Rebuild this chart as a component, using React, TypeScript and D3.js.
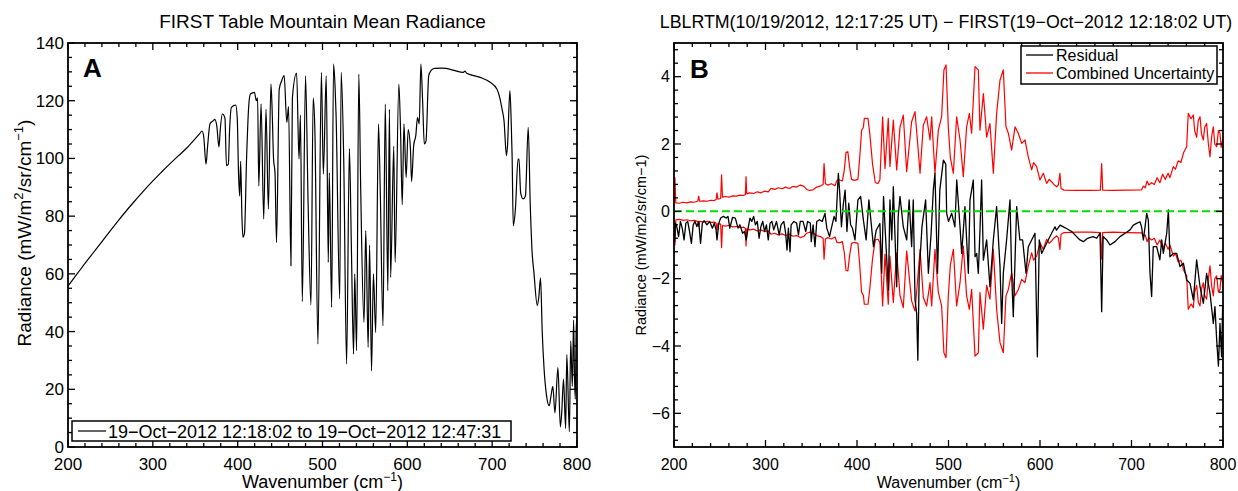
import React from 'react';
import * as d3 from 'd3';

// ---------- data ----------
const xTickValues = [200, 300, 400, 500, 600, 700, 800];
const yTickValuesA = [0, 20, 40, 60, 80, 100, 120, 140];
const yTickValuesB = [-6, -4, -2, 0, 2, 4];

const titleA = 'FIRST Table Mountain Mean Radiance';
const titleB = 'LBLRTM(10/19/2012, 12:17:25 UT) \u2212 FIRST(19\u2212Oct\u22122012 12:18:02 UT)';
const legendA = '19\u2212Oct\u22122012 12:18:02 to 19\u2212Oct\u22122012 12:47:31';
const legendB = ['Residual', 'Combined Uncertainty'];

// [wavenumber, radiance]
const radianceA: [number, number][] = [
  [200, 55.8], [210, 59.7], [220, 63.6], [230, 67.4], [240, 71.2], [250, 75], [260, 78.7],
  [270, 82.3], [280, 85.7], [290, 89], [300, 92.2], [310, 95.2], [320, 98.1], [330, 100.9],
  [340, 103.6], [348, 106.2], [355, 108.5], [358, 109.5], [360, 107.5],
  [362.7, 98], [364.5, 104], [367.4, 112], [371, 113], [373, 113.5], [375.5, 111], [377, 106],
  [378, 104], [379.5, 110], [382, 115.4], [385, 114], [386.8, 97.5], [389, 98], [390.5, 110],
  [392.6, 117.7], [397.7, 118.5], [399.5, 114], [401, 95], [402.4, 87], [403.5, 99], [405, 80],
  [406.2, 72.7], [408, 74], [410.5, 100], [413, 118], [415, 122.3], [419.8, 122.9], [422, 120],
  [423.5, 121], [424.9, 90.5], [427.6, 118.9], [430.7, 79], [433.4, 117], [436.2, 82.5],
  [439.2, 125.8], [440.5, 118], [442.3, 99.8], [444, 95], [445.8, 70.9], [449, 124], [452, 127],
  [454.8, 128.7], [457.9, 112.5], [460, 118], [462.8, 62.8], [464.5, 121], [469.5, 129.6],
  [472.3, 99.8], [474, 115], [476.2, 50.4], [480, 128.6], [483, 85], [486.4, 49.2], [489, 121],
  [491, 110], [494.6, 35.7], [498.7, 129.8], [501, 94.6], [504.4, 128.6], [506.8, 64], [508, 95],
  [510.8, 48.4], [513, 132.7], [514.8, 125], [516, 115], [520.3, 51.3], [522, 129.8], [525, 100],
  [528.4, 28.8], [531.7, 103.4], [534, 70], [536.6, 32.2], [538, 60], [540.2, 33.4],
  [542.8, 129.2], [545, 90], [548.9, 43.2], [551, 75], [553.8, 34.5], [555.5, 70], [557.8, 26.4],
  [560, 60], [562.7, 39.7], [566, 111.9], [568, 90], [571.3, 42], [574, 118.8], [577, 54.2],
  [578.9, 117], [580.3, 58.8], [584, 104.2], [585.6, 64], [590, 125.8], [592, 109.6], [594, 84],
  [596, 112], [598.6, 93.4], [601, 110], [603.7, 103], [605, 92], [607.5, 104.5], [610, 108],
  [612, 114.2], [614, 112], [616, 132.7], [618, 120], [620, 105], [622, 106], [625.2, 128.7],
  [628, 130.5], [632, 131.2], [640, 131.3], [646, 131.2], [655, 130.5], [666, 129.8],
  [668, 130.3], [670, 129.5], [685.8, 128.1], [697.7, 126.4], [705.7, 124], [709, 121],
  [711.7, 117], [714, 113], [716.8, 101], [718, 104], [720.9, 123.5], [722.5, 112], [723.5, 101],
  [724.9, 76.7], [727.4, 82.5], [730.5, 99.8], [731.6, 99.8], [733.6, 88], [736.5, 86],
  [739.2, 87], [742.5, 110.8], [744.9, 84], [747, 68], [749.2, 60.5], [753.2, 49], [755, 52],
  [757, 58.6], [759, 40], [761.2, 27], [764, 18], [767.3, 14.3], [769, 17], [771.5, 21],
  [774, 11.8], [777.5, 27.5], [780.4, 7], [782, 12], [784.1, 23.5], [786.6, 6.4], [788, 32],
  [791, 5.3], [792.6, 36.7], [794.5, 21], [796, 44], [797, 25], [798, 16.6], [799, 40], [800, 45],
];

// [wavenumber, residual]
const residualB: [number, number][] = [
  [200, -0.3], [200.8, -0.9], [201.5, -0.35], [203, -0.45], [205, -0.75], [207, -0.3], [209, -0.5],
  [211, -0.85], [213, -0.35], [215, -0.3], [217, -0.6], [219, -0.95], [221, -0.4], [223, -0.3],
  [225, -0.45], [227, -0.3], [229, -0.95], [231, -0.35], [233, -0.28], [236, -0.4], [239, -0.3],
  [242, -0.5], [244, -0.35], [246, -0.55], [247, -0.85], [249, -0.35], [251, -0.2], [254, -0.15],
  [257, -0.2], [259, -0.15], [261, -0.5], [264, -0.18], [267, -0.2], [270, -0.5], [272, -0.4],
  [275, -0.65], [277, -0.6], [279, -0.85], [281, -0.5], [283, -0.2], [285, -0.3], [287, -0.15],
  [289, -0.4], [291, -0.3], [293, -0.8], [295, -0.45], [297, -0.3], [299, -0.6], [301, -0.4],
  [303, -0.85], [305, -0.35], [307, -0.3], [309, -0.55], [312, -0.3], [315, -0.7], [317, -0.4],
  [320, -0.3], [322, -0.65], [323.5, -1.15], [325, -0.5], [326.8, -1.2], [328, -0.4], [331, -0.3],
  [334, -0.35], [336, -0.7], [338, -0.3], [341, -0.3], [344, -0.6], [346, -0.3], [349, -0.35],
  [350, -0.9], [352, -0.4], [354.1, -1.05], [356, -0.3], [359, -0.25], [362, -0.3], [365, -0.06],
  [367, -0.5], [370, -0.75], [372, -0.5], [375, -0.15], [377, -0.3], [379.6, 1.13], [381, 0.6],
  [383, -0.46], [385, 0.2], [387, 0.63], [389, -0.6], [391, 0.24], [393, -0.4], [395, -0.5],
  [397.8, -0.85], [401, 0.34], [404, 0.44], [407, -0.26], [410, -0.85], [413, 0.34], [418, -1.05],
  [421, -0.56], [425, -0.36], [427, -1.84], [429, 0.44], [431, -0.66], [434.3, -2.34], [436, 0.34],
  [438, -0.85], [439.7, 0.73], [443.4, -2.24], [445, -0.16], [447, 0.44], [450.6, -0.46],
  [454.3, -0.85], [457, 0.34], [459.7, -1.05], [461.5, 0.34], [463.4, -2.63], [465.2, -3.03],
  [466.5, -4.42], [468, -1.84], [471, -0.46], [475, 0.34], [478, -1.84], [481, -0.65],
  [483.4, 0.63], [485.2, 1.13], [488, -1.84], [490.5, 0.63], [494.4, 1.52], [497, 1.4],
  [498, -0.06], [500, -0.3], [503.5, -0.06], [507, -0.46], [509, 0.93], [512.6, -0.46],
  [514.4, -1.25], [518, 0.14], [521.7, -1.84], [523.5, 0.34], [527.1, 0.93], [529, -1.35],
  [530.8, -1.25], [532.6, -1.84], [534.4, -0.56], [536.2, 0.93], [538.1, -1.45], [541.7, -0.85],
  [545.3, -2.24], [549, -0.85], [552.6, 0.14], [556.3, -1.64], [558.1, -3.33], [559.9, -1.84],
  [563.5, -0.85], [567.2, 0.34], [569, -1.84], [570.8, -3.13], [574.5, 0.14], [578, -0.85],
  [581, -0.85], [584.7, -1.84], [587.2, -1.05], [590.9, -0.85], [594.5, -0.65], [597.1, -4.32],
  [599.2, -0.85], [601.8, -1.25], [605.4, -1.05], [609, -0.85], [612.7, -0.65], [616.4, -0.46],
  [618, -0.56], [622, -0.41], [625.5, -0.46], [629, -0.51], [634.6, -0.6], [640, -0.75],
  [643.7, -0.85], [647.4, -0.9], [652, -0.8], [658, -0.75], [662, -0.8], [665.6, -0.65],
  [667.4, -2.98], [669, -0.75], [672.9, -0.85], [676.5, -1.0], [682, -0.9], [687.4, -0.75],
  [693, -0.65], [698.4, -0.55], [702, -0.41], [705.6, -0.36], [709.3, -0.31], [711, -0.46],
  [713, -0.85], [714.8, -0.46], [716.6, -0.06], [718.4, -0.26], [720.2, -1.84], [722, -2.53],
  [723.8, -1.05], [727.5, -1.05], [731, -1.44], [733, -0.85], [734.8, -1.25], [738.5, -0.65],
  [740.3, 0.04], [742, -1.35], [745.7, -1.25], [749.4, -1.25], [753, -1.64], [756.7, -1.54],
  [760.3, -2.04], [764, -2.14], [767.6, -2.63], [771.2, -1.44], [774.9, -2.24], [778.5, -2.73],
  [782.1, -1.84], [785.8, -2.43], [789.4, -3.33], [791.2, -2.83], [793.1, -3.82], [795, -4.6],
  [796.7, -3.33], [798.5, -4.32], [799.6, -2.83], [800, -3.2],
];

// [wavenumber, combined uncertainty] (drawn as +/-)
const uncertaintyB: [number, number][] = [
  [200, 0.25], [201, 1.0], [202, 0.25], [206, 0.24], [210, 0.27], [214, 0.25], [218, 0.28],
  [222, 0.27], [226, 0.3], [227, 0.45], [228, 0.3], [232, 0.31], [236, 0.3], [240, 0.33],
  [244, 0.32], [246, 0.35], [247, 0.55], [248, 0.36], [251, 0.38], [252, 1.08], [253, 0.42],
  [256, 0.44], [260, 0.42], [264, 0.46], [268, 0.45], [272, 0.48], [276, 0.47], [278, 0.5],
  [278.7, 1.03], [279.5, 0.52], [283, 0.55], [287, 0.53], [291, 0.58], [295, 0.55], [299, 0.6],
  [303, 0.58], [306, 0.68], [310, 0.65], [314, 0.7], [318, 0.67], [322, 0.72], [326, 0.68],
  [330, 0.74], [334, 0.72], [338, 0.78], [342, 0.74], [345, 0.65], [348, 0.62], [352, 0.64],
  [356, 0.72], [360, 0.75], [363, 0.8], [364, 1.42], [365.5, 0.82], [368, 0.78], [372, 0.82],
  [376, 0.76], [378, 0.92], [381, 0.93], [384, 0.9], [386, 1.2], [388, 1.75], [390, 1.77],
  [392, 1.3], [394, 0.95], [397, 0.92], [401, 0.95], [403, 1.6], [405, 2.4], [407, 2.5],
  [408, 2.76], [412, 2.76], [414, 2.3], [417, 1.4], [420, 0.85], [423, 0.83], [425, 0.93],
  [428, 2.81], [430.6, 1.27], [434.2, 2.76], [436, 1.33], [439.7, 2.71], [443.4, 1.23],
  [447, 2.5], [450.6, 2.86], [454.3, 1.18], [459.7, 2.66], [463.4, 2.96], [466, 2.12],
  [468.9, 1.13], [472.5, 2.56], [476.1, 2.81], [479.8, 2.12], [481.6, 2.81], [485.2, 1.13],
  [488.9, 2.41], [492.5, 2.81], [495, 4.2], [497.3, 4.35], [499.8, 2.5], [502, 1.6],
  [505.3, 1.13], [508.9, 2.81], [512.6, 2.12], [516.2, 1.03], [519.8, 2.51], [522.8, 2.91],
  [525.3, 2.32], [529, 4.3], [532.6, 4.2], [534.4, 2.41], [538.1, 3.5], [541.7, 2.2],
  [545.3, 2.61], [549, 1.13], [552.6, 2.91], [556.3, 3.9], [559.9, 4.2], [562.8, 2.51],
  [565.4, 2.32], [569, 1.82], [572.7, 2.51], [576.3, 2.32], [580, 2.02], [583.6, 2.12],
  [587.2, 1.62], [590.9, 1.23], [593, 1.45], [596.3, 1.33], [600, 0.93], [603.6, 1.13],
  [607.3, 0.83], [610, 0.95], [612.7, 0.88], [615, 0.8], [618.2, 0.73], [620, 0.78],
  [621.8, 1.13], [623, 0.68], [626.2, 0.63], [640, 0.62], [655, 0.62], [666, 0.63],
  [667.4, 1.42], [668.5, 0.63], [680, 0.62], [695, 0.63], [711, 0.64], [713, 0.75], [715, 0.7],
  [717, 0.9], [719, 0.78], [722, 0.85], [725, 0.8], [728, 1.0], [731, 0.85], [734, 1.1],
  [737, 0.95], [740, 1.13], [742, 1.0], [745.7, 1.33], [748, 1.25], [751, 1.5], [754, 1.45],
  [757, 1.75], [760.3, 1.92], [762, 2.91], [765, 2.75], [767.6, 2.86], [769, 2.4],
  [771.2, 2.2], [773, 2.7], [774.9, 2.81], [776.5, 2.3], [778.5, 2.12], [780, 2.5],
  [782.1, 2.61], [784, 2.0], [785.8, 1.62], [787.5, 2.2], [789.4, 2.51], [791, 2.0],
  [793.1, 1.92], [795, 2.4], [796.7, 2.32], [798, 1.9], [799.6, 2.12], [800, 2.0],
];

// ---------- layout ----------
const W = 1238;
const H = 491;
const boxA = { left: 68, right: 577, top: 43, bottom: 447 };
const boxB = { left: 674, right: 1223, top: 43, bottom: 447 };
const FONT = '"Liberation Sans", Arial, Helvetica, sans-serif';

type Scale = d3.ScaleLinear<number, number>;

function Frame({ box, x, y, yMinorStep, xMinorStep, majorY, majorX }: {
  box: typeof boxA; x: Scale; y: Scale; yMinorStep: number; xMinorStep: number;
  majorY: number[]; majorX: number[];
}) {
  const [x0, x1] = x.domain();
  const [y0, y1] = y.domain();
  const xMinor = d3.range(Math.ceil(x0 / xMinorStep) * xMinorStep, x1 + 1e-9, xMinorStep);
  const yMinor = d3.range(Math.ceil(y0 / yMinorStep - 1e-9) * yMinorStep, y1 + 1e-9, yMinorStep);
  const maj = 7;
  const min = 4;
  const els: React.ReactNode[] = [];
  xMinor.forEach((v, i) => {
    const px = x(v);
    const isMaj = majorX.some((m) => Math.abs(m - v) < 1e-6);
    const L = isMaj ? maj : min;
    els.push(<line key={'xb' + i} x1={px} x2={px} y1={box.bottom} y2={box.bottom - L} />);
    els.push(<line key={'xt' + i} x1={px} x2={px} y1={box.top} y2={box.top + L} />);
  });
  yMinor.forEach((v, i) => {
    const py = y(v);
    const isMaj = majorY.some((m) => Math.abs(m - v) < 1e-6);
    const L = isMaj ? maj : min;
    els.push(<line key={'yl' + i} x1={box.left} x2={box.left + L} y1={py} y2={py} />);
    els.push(<line key={'yr' + i} x1={box.right} x2={box.right - L} y1={py} y2={py} />);
  });
  return (
    <g stroke="#000" strokeWidth={1.3}>
      {els}
      <rect x={box.left} y={box.top} width={box.right - box.left} height={box.bottom - box.top}
        fill="none" strokeWidth={1.8} />
    </g>
  );
}

const fmt = (v: number) => (v < 0 ? '\u2212' + Math.abs(v) : String(v));

export default function App() {
  const xA = d3.scaleLinear().domain([200, 800]).range([boxA.left, boxA.right]);
  const yA = d3.scaleLinear().domain([0, 140]).range([boxA.bottom, boxA.top]);
  const xB = d3.scaleLinear().domain([200, 800]).range([boxB.left, boxB.right]);
  const yB = d3.scaleLinear().domain([-7, 5]).range([boxB.bottom, boxB.top]);

  const lineA = d3.line<[number, number]>().x((d) => xA(d[0])).y((d) => yA(d[1])).curve(d3.curveMonotoneX);
  const lineB = d3.line<[number, number]>().x((d) => xB(d[0])).y((d) => yB(d[1]));
  const lineBneg = d3.line<[number, number]>().x((d) => xB(d[0])).y((d) => yB(-d[1]));

  return (
    <svg width={W} height={H} style={{ position: 'absolute', left: 0, top: 0, background: '#fff' }}
      fontFamily={FONT}>
      <defs>
        <clipPath id="clipA"><rect x={boxA.left} y={boxA.top} width={boxA.right - boxA.left} height={boxA.bottom - boxA.top} /></clipPath>
        <clipPath id="clipB"><rect x={boxB.left} y={boxB.top} width={boxB.right - boxB.left} height={boxB.bottom - boxB.top} /></clipPath>
      </defs>
      <rect x={0} y={0} width={W} height={H} fill="#fff" />

      {/* ---------------- Panel A ---------------- */}
      <text x={(boxA.left + boxA.right) / 2} y={28} fontSize={19} textAnchor="middle">{titleA}</text>
      <g clipPath="url(#clipA)">
        <path d={lineA(radianceA) || ''} fill="none" stroke="#000" strokeWidth={1.2} strokeLinejoin="round" />
      </g>
      <Frame box={boxA} x={xA} y={yA} xMinorStep={20} yMinorStep={5} majorX={xTickValues} majorY={yTickValuesA} />
      {xTickValues.map((v) => (
        <text key={'ax' + v} x={xA(v)} y={470} fontSize={17} textAnchor="middle">{v}</text>
      ))}
      {yTickValuesA.map((v) => (
        <text key={'ay' + v} x={boxA.left - 4} y={yA(v)} dy="0.35em" fontSize={17} textAnchor="end">{v}</text>
      ))}
      <text x={(boxA.left + boxA.right) / 2} y={488} fontSize={18} textAnchor="middle">
        Wavenumber (cm<tspan dy="-7" fontSize={12}>{'\u22121'}</tspan><tspan dy="7">)</tspan>
      </text>
      <text transform={`translate(31,${233}) rotate(-90)`} fontSize={19} textAnchor="middle">
        Radiance (mW/m<tspan dy="-8" fontSize={13}>2</tspan><tspan dy="8">/sr/cm</tspan>
        <tspan dy="-8" fontSize={13}>{'\u22121'}</tspan><tspan dy="8">)</tspan>
      </text>
      <text x={83} y={77} fontSize={26} fontWeight="bold">A</text>
      {/* legend A */}
      <rect x={72} y={421} width={439} height={20} fill="#fff" stroke="#000" strokeWidth={1.5} />
      <line x1={78} x2={106} y1={431} y2={431} stroke="#000" strokeWidth={1.2} />
      <text x={108} y={437.5} fontSize={18}>{legendA}</text>

      {/* ---------------- Panel B ---------------- */}
      <text x={946} y={28} fontSize={17.8} textAnchor="middle">{titleB}</text>
      <g clipPath="url(#clipB)">
        <path d={lineB(uncertaintyB) || ''} fill="none" stroke="#ff0000" strokeWidth={1.2} strokeLinejoin="round" />
        <path d={lineBneg(uncertaintyB) || ''} fill="none" stroke="#ff0000" strokeWidth={1.2} strokeLinejoin="round" />
        <path d={lineB(residualB) || ''} fill="none" stroke="#000" strokeWidth={1.3} strokeLinejoin="round" />
        <line x1={boxB.left} x2={boxB.right} y1={yB(0)} y2={yB(0)} stroke="#00e000" strokeWidth={2} strokeDasharray="8 4" />
      </g>
      <Frame box={boxB} x={xB} y={yB} xMinorStep={20} yMinorStep={0.4} majorX={xTickValues} majorY={yTickValuesB} />
      {xTickValues.map((v) => (
        <text key={'bx' + v} x={xB(v)} y={470} fontSize={16} textAnchor="middle">{v}</text>
      ))}
      {yTickValuesB.map((v) => (
        <text key={'by' + v} x={boxB.left - 4} y={yB(v)} dy="0.35em" fontSize={16} textAnchor="end">{fmt(v)}</text>
      ))}
      <text x={(boxB.left + boxB.right) / 2} y={488} fontSize={16} textAnchor="middle">
        Wavenumber (cm<tspan dy="-6" fontSize={11}>{'\u22121'}</tspan><tspan dy="6">)</tspan>
      </text>
      <text transform={`translate(646,${245}) rotate(-90)`} fontSize={14.5} textAnchor="middle">
        Radiance (mW/m2/sr/cm{'\u2212'}1)
      </text>
      <text x={690} y={78} fontSize={26} fontWeight="bold">B</text>
      {/* legend B */}
      <rect x={1021} y={46} width={196} height={38} fill="#fff" stroke="#000" strokeWidth={1.5} />
      <line x1={1026} x2={1053} y1={55} y2={55} stroke="#000" strokeWidth={1.3} />
      <text x={1056} y={60.5} fontSize={16}>{legendB[0]}</text>
      <line x1={1026} x2={1053} y1={73} y2={73} stroke="#ff0000" strokeWidth={1.3} />
      <text x={1056} y={78.5} fontSize={16}>{legendB[1]}</text>
    </svg>
  );
}
